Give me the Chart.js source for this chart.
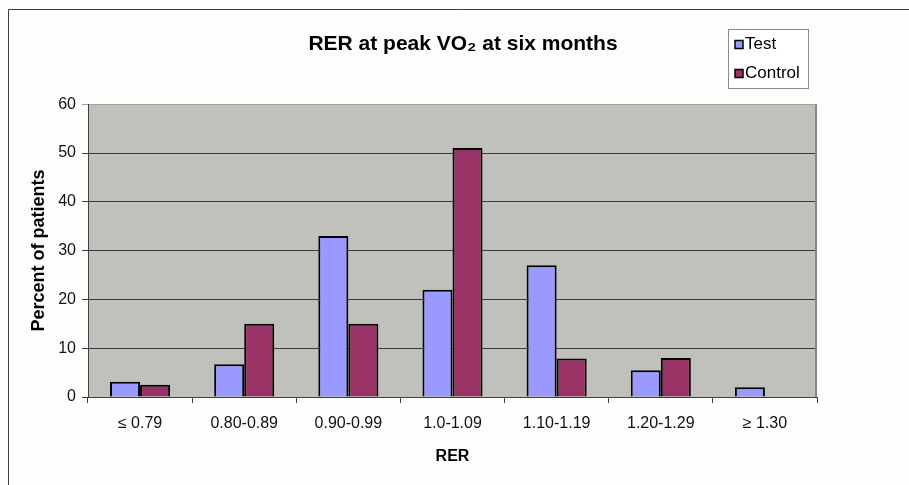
<!DOCTYPE html>
<html><head><meta charset="utf-8">
<script src="https://cdn.jsdelivr.net/npm/chart.js@4.4.0/dist/chart.umd.min.js"></script>
<style>html,body{margin:0;padding:0;background:#fdfdfb;}</style>
</head><body>
<canvas id="c" width="909" height="485"></canvas>
<script>
const categories = ['≤ 0.79','0.80-0.89','0.90-0.99','1.0-1.09','1.10-1.19','1.20-1.29','≥ 1.30'];
const testValues = [3.1, 6.7, 33, 22, 27, 5.5, 2];
const controlValues = [2.5, 15, 15, 51, 7.9, 8, 0];
const yTicks = [0, 10, 20, 30, 40, 50, 60];
const seriesNames = ['Test', 'Control'];
const seriesColors = ['#9999ff', '#993366'];
const chartTitle = 'RER at peak VO₂ at six months';
const xTitle = 'RER';
const yTitle = 'Percent of patients';

const FAMILY = "'Liberation Sans', Arial, sans-serif";
Chart.defaults.font.family = FAMILY;

const bgPlugin = {
  id: 'bg',
  beforeDraw(chart) {
    const {ctx, chartArea: a, width, height} = chart;
    ctx.save();
    ctx.fillStyle = '#fdfdfb';
    ctx.fillRect(0, 0, width, height);
    ctx.strokeStyle = '#3c3c3c';
    ctx.lineWidth = 1;
    ctx.beginPath();
    ctx.moveTo(8.5, height); ctx.lineTo(8.5, 9.5); ctx.lineTo(width, 9.5);
    ctx.stroke();
    ctx.fillStyle = '#c0c0bd';
    ctx.fillRect(a.left, a.top, a.right - a.left, a.bottom - a.top);
    ctx.restore();
  },
  beforeDatasetsDraw(chart) {
    const {ctx, chartArea: a} = chart;
    ctx.save();
    ctx.strokeStyle = '#888888';
    ctx.lineWidth = 2;
    ctx.beginPath();
    ctx.moveTo(a.right - 1, a.top); ctx.lineTo(a.right - 1, a.bottom);
    ctx.stroke();
    ctx.restore();
  },
  afterDraw(chart) {
    const {ctx} = chart;
    ctx.save();
    ctx.fillStyle = '#ffffff';
    ctx.fillRect(728.5, 29.5, 80, 59);
    ctx.strokeStyle = '#8c8c8c';
    ctx.lineWidth = 1;
    ctx.strokeRect(728.5, 29.5, 80, 59);
    ctx.font = '17px ' + FAMILY;
    ctx.textBaseline = 'middle';
    const ys = [44, 73];
    chart.data.datasets.forEach((ds, i) => {
      ctx.fillStyle = ds.backgroundColor;
      ctx.fillRect(735, ys[i] - 3.5, 8, 8);
      ctx.strokeStyle = '#000';
      ctx.lineWidth = 1.5;
      ctx.strokeRect(735, ys[i] - 3.5, 8, 8);
      ctx.fillStyle = '#000';
      ctx.fillText(ds.label, 745, ys[i]);
    });
    ctx.restore();
  }
};

new Chart(document.getElementById('c'), {
  type: 'bar',
  data: {
    labels: categories,
    datasets: [
      {label: seriesNames[0], data: testValues, backgroundColor: seriesColors[0]},
      {label: seriesNames[1], data: controlValues, backgroundColor: seriesColors[1]}
    ]
  },
  options: {
    responsive: false,
    animation: false,
    layout: {padding: {left: 17, right: 0, top: 0, bottom: 0}},
    datasets: {bar: {barPercentage: 1, categoryPercentage: 0.577, borderColor: '#000', borderWidth: 2}},
    plugins: {
      legend: {display: false},
      tooltip: {enabled: false},
      title: {display: true, text: chartTitle, color: '#000',
        font: {family: FAMILY, size: 21, weight: 'bold'},
        padding: {top: 32, bottom: 47}}
    },
    scales: {
      x: {
        grid: {display: true, drawOnChartArea: false, drawTicks: true, tickLength: 6, color: '#404040', offset: true},
        border: {display: true, color: '#404040'},
        ticks: {color: '#111', font: {size: 16}, padding: 11, maxRotation: 0, autoSkip: false},
        title: {display: true, text: xTitle, color: '#000', font: {size: 16, weight: 'bold'}, padding: {top: 0, bottom: 19}},
        afterFit(s) { s.height = 88; }
      },
      y: {
        min: 0, max: 60,
        afterBuildTicks(s) { s.ticks = yTicks.map(v => ({value: v})); },
        grid: {color: c => (c.tick && c.tick.value === 60) ? '#a0a0a0' : '#3a3a3a', tickLength: 6, lineWidth: 1},
        border: {display: true, color: '#404040'},
        ticks: {color: '#111', font: {size: 16}, padding: 6},
        title: {display: true, text: yTitle, color: '#000', font: {size: 18, weight: 'bold'}, padding: {top: 11, bottom: 0}},
        afterFit(s) { s.width = 71; }
      },
      y2: {
        position: 'right', display: true,
        grid: {display: false}, ticks: {display: false}, border: {display: false},
        afterFit(s) { s.width = 92; }
      }
    }
  },
  plugins: [bgPlugin]
});
</script>
</body></html>
